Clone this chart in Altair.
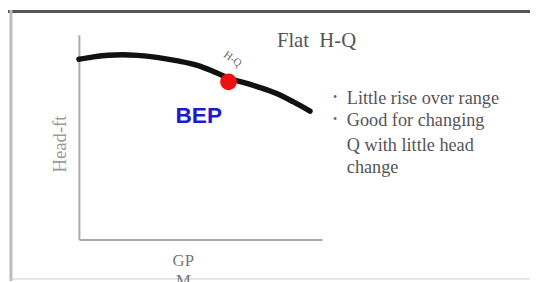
import altair as alt
import pandas as pd

# H-Q curve (flow in % of range, head in % of range)
flow = [0, 6, 12, 18, 24, 32, 40, 49, 55, 62, 69, 75, 81, 88, 95]
head = [88.0, 89.2, 90.0, 90.2, 89.9, 88.9, 87.3, 84.9, 82.2, 78.6, 76.2, 74.0, 71.4, 67.3, 62.7]

# Best efficiency point
bep_flow = [61.5]
bep_head = [77.0]

title_text = "Flat\u00a0 H-Q"
bullet_lines = ["Little rise over range", "Good for changing", "Q with little head", "change"]

curve_df = pd.DataFrame({"Q": flow, "H": head})
bep_df = pd.DataFrame({"Q": bep_flow, "H": bep_head})
one = pd.DataFrame({"k": [0]})

xs = alt.Scale(domain=[0, 100], nice=False, zero=True)
ys = alt.Scale(domain=[0, 100], nice=False, zero=True)
ax = alt.Axis(labels=False, ticks=False, title=None, grid=False,
              domainColor="#aaaaaa", domainWidth=2)

curve = alt.Chart(curve_df).mark_line(
    color="#111111", strokeWidth=5.5, interpolate="monotone", strokeCap="round"
).encode(
    x=alt.X("Q:Q", scale=xs, axis=ax),
    y=alt.Y("H:Q", scale=ys, axis=ax),
)

bep = alt.Chart(bep_df).mark_point(
    filled=True, color="#ee1111", size=290, opacity=1, shape="circle"
).encode(x=alt.X("Q:Q", scale=xs), y=alt.Y("H:Q", scale=ys))

serif = "Liberation Serif"


def txt(text, x, y, size, color, font=serif, weight="normal", angle=0,
        align="left", baseline="alphabetic"):
    return alt.Chart(one).mark_text(
        text=text, font=font, fontSize=size, color=color, fontWeight=weight,
        angle=angle, align=align, baseline=baseline
    ).encode(x=alt.value(x), y=alt.value(y))


texts = [
    txt(title_text, 201, 12, 21, "#555555"),
    txt("H-Q", 156, 25, 11, "#666666", angle=35, align="center", baseline="middle"),
    txt("BEP", 98, 90, 23, "#1c1cc8", font="Liberation Sans", weight="bold"),
    txt("Head-ft", -19, 111, 19, "#9a9a9a", angle=270, align="center", baseline="middle"),
    txt("GP", 106, 235, 17, "#777777", align="center"),
    txt("M", 106, 255, 17, "#777777", align="center"),
]
bl_y = [70, 93, 118, 140]
for i, line in enumerate(bullet_lines):
    texts.append(txt(line, 272, bl_y[i], 18.5, "#555555"))
    if i < 2:
        texts.append(txt("\u2022", 258, bl_y[i] - 3, 12, "#666666"))

frame = [
    alt.Chart(one).mark_rule(color="#555555", strokeWidth=3).encode(
        x=alt.value(-72), x2=alt.value(460), y=alt.value(-23.5)),
    alt.Chart(one).mark_rule(color="#bbbbbb", strokeWidth=3).encode(
        x=alt.value(-69), y=alt.value(-25), y2=alt.value(250)),
    alt.Chart(one).mark_rule(color="#cccccc", strokeWidth=1).encode(
        x=alt.value(-69), x2=alt.value(460), y=alt.value(248)),
]

chart = alt.layer(*frame, curve, bep, *texts).properties(
    width=247, height=208,
    autosize=alt.AutoSizeParams(type="none"),
    padding={"left": 72, "top": 25, "right": 211, "bottom": 41},
    background="white",
).configure_view(stroke=None)

chart.save("out.html", embed_options={"renderer": "svg", "actions": False})
